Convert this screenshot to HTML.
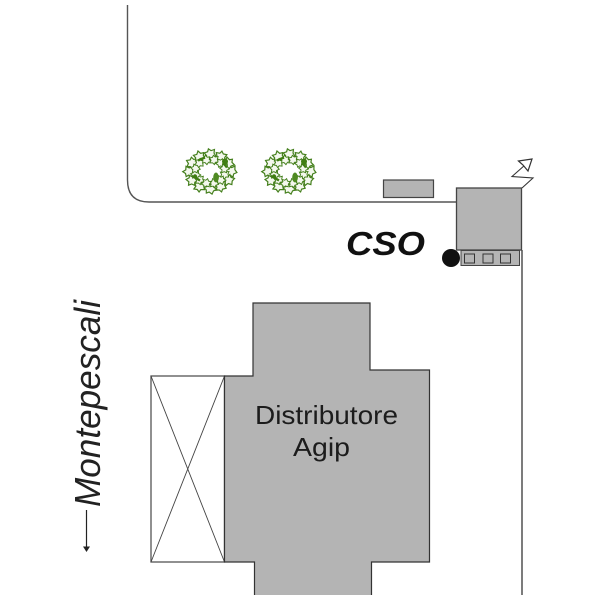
<!DOCTYPE html>
<html>
<head>
<meta charset="utf-8">
<style>
html,body{margin:0;padding:0;background:#fff;width:600px;height:600px;overflow:hidden}
svg{display:block}
text{font-family:"Liberation Sans",sans-serif}
</style>
</head>
<body>
<svg width="600" height="600" viewBox="0 0 600 600" xmlns="http://www.w3.org/2000/svg">
<defs>
<g id="leaf"><path d="M-6,0 L-3,-2 L-3,-5 L0,-4 L3,-6 L3.5,-2.5 L6,0 L3,2 L3,5 L0,4 L-3,5.5 L-3,2 Z" fill="#f4f8ee" stroke="#447f1c" stroke-width="1.2"/></g>
<g id="tree">
<use href="#leaf" transform="translate(21,0) rotate(10)"/>
<use href="#leaf" transform="translate(18,8.5) rotate(50)"/>
<use href="#leaf" transform="translate(10.5,14.7) rotate(20)"/>
<use href="#leaf" transform="translate(0,17) rotate(70)"/>
<use href="#leaf" transform="translate(-10.5,14.7) rotate(35)"/>
<use href="#leaf" transform="translate(-18,8.5) rotate(5)"/>
<use href="#leaf" transform="translate(-21,0) rotate(60)"/>
<use href="#leaf" transform="translate(-18,-8.5) rotate(25)"/>
<use href="#leaf" transform="translate(-10.5,-14.7) rotate(75)"/>
<use href="#leaf" transform="translate(0,-17) rotate(15)"/>
<use href="#leaf" transform="translate(10.5,-14.7) rotate(45)"/>
<use href="#leaf" transform="translate(18,-8.5) rotate(80)"/>
<use href="#leaf" transform="translate(14.5,3) rotate(30) scale(.8)"/>
<use href="#leaf" transform="translate(10.6,8.5) rotate(65) scale(.8)"/>
<use href="#leaf" transform="translate(3.9,11.6) rotate(15) scale(.8)"/>
<use href="#leaf" transform="translate(-3.9,11.6) rotate(50) scale(.8)"/>
<use href="#leaf" transform="translate(-10.6,8.5) rotate(20) scale(.8)"/>
<use href="#leaf" transform="translate(-14.5,3) rotate(70) scale(.8)"/>
<use href="#leaf" transform="translate(-14.5,-3) rotate(10) scale(.8)"/>
<use href="#leaf" transform="translate(-10.6,-8.5) rotate(40) scale(.8)"/>
<use href="#leaf" transform="translate(-3.9,-11.6) rotate(80) scale(.8)"/>
<use href="#leaf" transform="translate(3.9,-11.6) rotate(25) scale(.8)"/>
<use href="#leaf" transform="translate(10.6,-8.5) rotate(55) scale(.8)"/>
<use href="#leaf" transform="translate(14.5,-3) rotate(5) scale(.8)"/>
<path d="M-12,-11 L-5,-14 M13,-9 L17,-4 M-15,6 L-10,9" stroke="#3f7d12" stroke-width="2.4" fill="none"/>
<ellipse cx="6" cy="6" rx="2.8" ry="5" fill="#4f8a22"/>
<circle cx="15" cy="-10" r="3" fill="#3f7d12"/>
<circle cx="-15" cy="5" r="2.2" fill="#3f7d12"/>
</g>
</defs>

<!-- road -->
<path d="M127.5,5 V180 Q127.5,202 149,202 H457" fill="none" stroke="#555" stroke-width="1.4"/>
<path d="M522,250 V595" fill="none" stroke="#444" stroke-width="1.4"/>

<!-- trees -->
<use href="#tree" transform="translate(210,171.5)"/>
<use href="#tree" transform="translate(289,171.5)"/>

<!-- small rect -->
<rect x="383.5" y="180" width="50" height="17.5" fill="#b4b4b4" stroke="#444" stroke-width="1.2"/>

<!-- CSO box -->
<rect x="456.5" y="188" width="65" height="62" fill="#b4b4b4" stroke="#444" stroke-width="1.3"/>
<rect x="461" y="250.5" width="58.5" height="15" fill="#b4b4b4" stroke="#444" stroke-width="1"/>
<rect x="464.5" y="254" width="10" height="9" fill="#b4b4b4" stroke="#333" stroke-width="1"/>
<rect x="483" y="254" width="10" height="9" fill="#b4b4b4" stroke="#333" stroke-width="1"/>
<rect x="500.5" y="254" width="10" height="9" fill="#b4b4b4" stroke="#333" stroke-width="1"/>
<circle cx="451" cy="258" r="9" fill="#111"/>

<!-- antenna -->
<path d="M522,188 L533,178 L512,176.5 L525,165" fill="none" stroke="#333" stroke-width="1.1"/>
<path d="M518.5,161 L532,159 L528,171 L523,165 Z" fill="#fff" stroke="#333" stroke-width="1.2"/>

<!-- CSO label -->
<text x="346" y="255" font-size="33" font-weight="bold" font-style="italic" fill="#111" textLength="79" lengthAdjust="spacingAndGlyphs">CSO</text>

<!-- crossed rect -->
<rect x="151" y="376" width="73.5" height="186" fill="#fff" stroke="#555" stroke-width="1.3"/>
<path d="M151,376 L224.5,562 M224.5,376 L151,562" stroke="#444" stroke-width="0.9" fill="none"/>

<!-- building -->
<path d="M253,303 H370 V370 H429.5 V562 H371.5 V595 H254.5 V562 H224.5 V376 H253 Z" fill="#b4b4b4"/>
<path d="M254.5,595 V562 H224.5 V376 H253 V303 H370 V370 H429.5 V562 H371.5 V595" fill="none" stroke="#333" stroke-width="1.2"/>
<text x="255" y="424" font-size="26" fill="#1c1c1c" textLength="143" lengthAdjust="spacingAndGlyphs">Distributore</text>
<text x="293" y="456" font-size="26" fill="#1c1c1c" textLength="57" lengthAdjust="spacingAndGlyphs">Agip</text>

<!-- Montepescali -->
<text transform="translate(100,507) rotate(-90)" font-size="36" font-style="italic" fill="#222" textLength="207" lengthAdjust="spacingAndGlyphs">Montepescali</text>
<path d="M86.5,510 V548" stroke="#222" stroke-width="1.2" fill="none"/>
<path d="M83,546.5 H90 L86.5,552 Z" fill="#222"/>
</svg>
</body>
</html>
